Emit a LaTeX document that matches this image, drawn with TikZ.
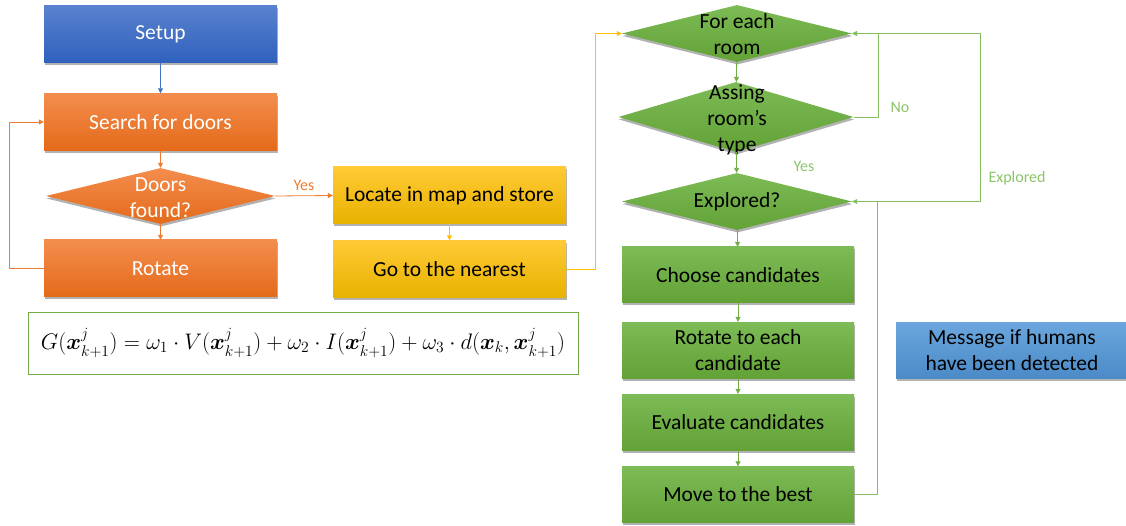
\documentclass[tikz,border=0pt]{standalone}
\usepackage{fontspec}
\setmainfont{Carlito}
\usepackage{amsmath}
\usepackage{graphicx}
\usetikzlibrary{arrows.meta,shapes.geometric,shadows}
\definecolor{bluetop}{HTML}{5A82CF}
\definecolor{bluebot}{HTML}{2F61BD}
\definecolor{orangetop}{HTML}{F38D4D}
\definecolor{orangebot}{HTML}{E46A1A}
\definecolor{yellowtop}{HTML}{FFCA35}
\definecolor{yellowbot}{HTML}{E8B200}
\definecolor{greentop}{HTML}{7DBB56}
\definecolor{greenbot}{HTML}{62A236}
\definecolor{msgtop}{HTML}{6BA7DD}
\definecolor{msgbot}{HTML}{4B8BC8}
\definecolor{lineblue}{HTML}{4472C4}
\definecolor{lineorange}{HTML}{ED7D31}
\definecolor{lineyellow}{HTML}{FFC000}
\definecolor{linegreen}{HTML}{70AD47}
\definecolor{looplinegreen}{HTML}{86BE62}
\definecolor{labelgreen}{HTML}{8CC46A}
\begin{document}
\begin{tikzpicture}[x=1pt,y=-1pt,
  font=\fontsize{21.5}{26}\selectfont,
  shad/.style={drop shadow={shadow xshift=0.5pt, shadow yshift=-2.5pt, opacity=0.3, fill=black}},
  box/.style={rectangle, minimum width=233pt, minimum height=57pt, inner sep=0pt, align=center, shad},
  bluebox/.style={box, top color=bluetop, bottom color=bluebot, text=white},
  orbox/.style={box, top color=orangetop, bottom color=orangebot, text=white},
  yelbox/.style={box, top color=yellowtop, bottom color=yellowbot, text=black},
  grbox/.style={box, minimum width=232pt, minimum height=56pt, top color=greentop, bottom color=greenbot, text=black},
  msgbox/.style={box, minimum width=232pt, minimum height=56pt, top color=msgtop, bottom color=msgbot, text=black},
  dia/.style={diamond, inner sep=0pt, shad},
  ordia/.style={dia, top color=orangetop, bottom color=orangebot},
  grdia/.style={dia, top color=greentop, bottom color=greenbot},
  dtext/.style={align=center, inner sep=0pt},
  arr/.style={-{Triangle[length=5pt,width=5pt]}, line width=0.8pt},
  lbl/.style={font=\fontsize{16}{19}\selectfont, inner sep=0pt}
]
\useasboundingbox (0,0) rectangle (1126,526);

% left column
\node[bluebox] (setup) at (160.5,34) {Setup};
\node[orbox] (search) at (160.5,122) {Search for doors};
\node[ordia, minimum width=229pt, minimum height=56pt] (doors) at (160.5,196) {};
\node[dtext, text=white] at (160.5,197.5) {Doors\\found?};
\node[orbox] (rot) at (160.5,268.5) {Rotate};

% yellow column
\node[yelbox] (locate) at (449.5,195.5) {Locate in map and store};
\node[yelbox] (go) at (449.5,269) {Go to the nearest};

% formula
\node[draw=linegreen, line width=0.8pt, minimum width=550pt, minimum height=62pt, inner sep=0pt] (formula) at (303,343)
  {\resizebox{524pt}{!}{$G(\boldsymbol{x}^j_{k+1}) = \omega_1\cdot V(\boldsymbol{x}^j_{k+1}) + \omega_2\cdot I(\boldsymbol{x}^j_{k+1}) + \omega_3\cdot d(\boldsymbol{x}_k,\boldsymbol{x}^j_{k+1})$}};

% green column
\node[grdia, minimum width=230pt, minimum height=57pt] (fe) at (737,33.5) {};
\node[dtext] at (737,34.5) {For each\\room};
\node[grdia, minimum width=235pt, minimum height=70pt] (assing) at (736,117) {};
\node[dtext] at (737,120) {Assing\\room’s\\type};
\node[grdia, minimum width=230pt, minimum height=57pt] (expl) at (737,201.5) {};
\node[dtext] at (737,202) {Explored?};
\node[grbox] (choose) at (738,275) {Choose candidates};
\node[grbox] (roteach) at (738,350) {Rotate to each\\candidate};
\node[grbox] (eval) at (738,422) {Evaluate candidates};
\node[grbox] (move) at (738,494.5) {Move to the best};

% message
\node[msgbox] (msg) at (1012,350) {Message if humans\\have been detected};

% connectors
\draw[arr, lineblue] (setup) -- (search);
\draw[arr, lineorange] (search) -- (doors);
\draw[arr, lineorange] (doors) -- (rot);
\draw[arr, lineorange] (rot.west) -- ++(-34,0) |- (search.west);
\draw[arr, lineorange] (doors.east) -- node[lbl, text=lineorange, above=5pt, pos=0.5] {Yes} (locate.west);
\draw[arr, lineyellow] (locate) -- (go);
\draw[arr, lineyellow] (go.east) -- ++(29,0) |- (fe.west);

\draw[arr, linegreen] (fe) -- (assing);
\draw[arr, linegreen] (assing) -- (expl);
\draw[arr, linegreen] (expl) -- (choose);
\draw[arr, linegreen] (choose) -- (roteach);
\draw[arr, linegreen] (roteach) -- (eval);
\draw[arr, linegreen] (eval) -- (move);
\draw[arr, looplinegreen] (assing.east) -- ++(25,0) |- (fe.east);
\draw[arr, looplinegreen] (expl.east) -- ++(128,0) |- (fe.east);
\draw[arr, looplinegreen] (move.east) -- ++(23,0) |- (expl.east);

% labels
\node[lbl, text=labelgreen] at (900,107) {No};
\node[lbl, text=labelgreen] at (804,166) {Yes};
\node[lbl, text=labelgreen] at (1017,178) {Explored};
\end{tikzpicture}
\end{document}
